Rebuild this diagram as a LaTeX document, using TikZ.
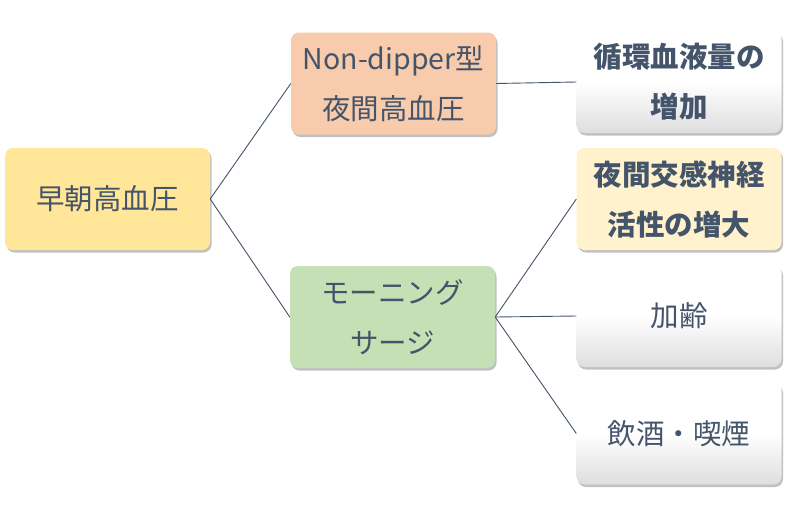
\documentclass[tikz,border=0pt]{standalone}
\usepackage{fontspec}
\setmainfont{Noto Sans CJK JP}
\usetikzlibrary{shadows}
\definecolor{txt}{HTML}{44546A}
\definecolor{yel}{HTML}{FFE699}
\definecolor{ora}{HTML}{F8CBAD}
\definecolor{grn}{HTML}{C5E0B4}
\definecolor{lyel}{HTML}{FFF2CC}
\begin{document}
\begin{tikzpicture}[x=1pt,y=-1pt]
\tikzset{
  box/.style={rounded corners=8pt, minimum width=205pt, minimum height=102pt,
    align=center, text=txt, font=\fontsize{28.5}{50}\selectfont,
    drop shadow={shadow xshift=1.5pt, shadow yshift=-2.5pt, opacity=0.4, fill=black!60}},
  wbox/.style={box, top color=white, bottom color=black!13, middle color=white},
  conn/.style={draw=txt, line width=0.9pt}
}
\fill[white] (0,0) rectangle (800,517);
\useasboundingbox (0,0) rectangle (800,517);
\node[box, fill=yel] (root) at (107.5,199) {早朝高血圧};
\node[box, fill=ora] (nd) at (393.5,83.5) {Non-dipper型\\夜間高血圧};
\node[box, fill=grn] (ms) at (392.5,317) {モーニング\\サージ};
\node[wbox] (r1) at (679,82) {\bfseries 循環血液量の\\\bfseries 増加};
\node[box, fill=lyel] (r2) at (679,199) {\bfseries 夜間交感神経\\\bfseries 活性の増大};
\node[wbox] (r3) at (679,316) {加齢};
\node[wbox] (r4) at (679,433.5) {飲酒・喫煙};
\draw[conn] (root.east) -- (nd.west);
\draw[conn] (root.east) -- (ms.west);
\draw[conn] (nd.east) -- (r1.west);
\draw[conn] (ms.east) -- (r2.west);
\draw[conn] (ms.east) -- (r3.west);
\draw[conn] (ms.east) -- (r4.west);
\end{tikzpicture}
\end{document}
